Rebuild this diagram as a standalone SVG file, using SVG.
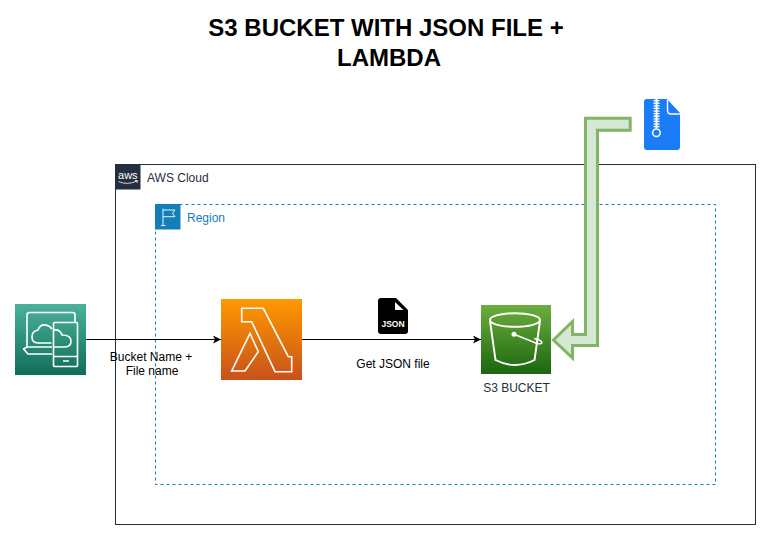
<svg xmlns="http://www.w3.org/2000/svg" width="771" height="540" viewBox="0 0 771 540">
<style>
text{font-family:"Liberation Sans",Arial,sans-serif}
.t{font-size:12px;text-anchor:middle;fill:#000}
.title{font-size:24px;font-weight:bold;text-anchor:middle;fill:#000}
.w{fill:none;stroke:#fff;stroke-width:1.6;stroke-linejoin:round}
.c{fill:none;stroke:#000;stroke-width:1}
</style>
<defs>
<marker id="a" markerUnits="userSpaceOnUse" markerWidth="9" markerHeight="8" refX="8" refY="4" orient="auto"><path d="M0 0L8 4L0 8L2 4Z" fill="#000"/></marker>
<linearGradient id="g1" x1="0" y1="1" x2="0" y2="0"><stop offset="0" stop-color="#116d5b"/><stop offset="1" stop-color="#4ab29a"/></linearGradient>
<linearGradient id="g2" x1="0" y1="1" x2="0" y2="0"><stop offset="0" stop-color="#c8511b"/><stop offset="1" stop-color="#f90"/></linearGradient>
<linearGradient id="g3" x1="0" y1="1" x2="0" y2="0"><stop offset="0" stop-color="#1b660f"/><stop offset="1" stop-color="#6cae3e"/></linearGradient>
</defs>
<rect width="771" height="540" fill="#fff"/>
<g id="title"><text class="title" x="386" y="36">S3 BUCKET WITH JSON FILE +</text><text class="title" x="389" y="66">LAMBDA</text></g>
<g id="aws-cloud">
<rect x="115.500" y="164.500" width="640" height="360" fill="none" stroke="#232f3e"/>
<rect x="115" y="164" width="25.500" height="25.500" fill="#232f3e"/>
<text x="127.800" y="179" font-size="11" fill="#fff" text-anchor="middle">aws</text>
<path d="M118.500 181.500Q127 185.500 137 181M135 180.500L137.500 180.500L137 183" fill="none" stroke="#fff" stroke-width="0.800"/>
<text x="147" y="182" font-size="12" fill="#232f3e">AWS Cloud</text>
</g>
<g id="region">
<rect x="155.500" y="204.500" width="560" height="280" fill="none" stroke="#147eba" stroke-dasharray="3 3"/>
<rect x="155" y="204" width="25.500" height="25.500" fill="#147eba"/>
<path d="M161 225.500H165.500M163 225.500V208.500M163 210H175L172.500 213.300L175 216.700H163" fill="none" stroke="#fff" stroke-width="0.900"/>
<text x="187" y="222" font-size="12" fill="#147eba">Region</text>
</g>
<g id="connectors">
<path class="c" d="M86 339.500H221" marker-end="url(#a)"/>
<path class="c" d="M302 339.500H481" marker-end="url(#a)"/>
<path d="M630.200 118.200H585.500V334.500H572.500V321.500L553.500 340L572.500 358V345.500H597.500V130.200H630.200Z" fill="#d5e8d4" stroke="#82b366" stroke-width="3" stroke-linejoin="miter"/>
</g>
<g id="client">
<rect x="15" y="304" width="71" height="71" fill="url(#g1)"/>
<path class="w" d="M52 347H27V315Q27 312.500 29.500 312.500H72.500Q75 312.500 75 315V322M27 347L23.500 349L28 354H52"/>
<path class="w" d="M51.500 343H38Q32 343 32 337Q32 331 38 330Q40 324 46 325Q50 326 52 329"/>
<rect class="w" x="53.500" y="322.500" width="24" height="44" rx="1"/>
<path class="w" d="M53.500 356.500H77.500M63 361H69"/>
<path class="w" d="M54 330Q60 329 62 335Q71 335 71 341Q71 347 65 347H54"/>
</g>
<g id="lambda">
<rect x="221" y="299" width="81" height="81" fill="url(#g2)"/>
<path class="w" stroke-width="1.800" style="stroke-linejoin:miter" d="M241.700 308.300H263.300L288.300 356.700H291.700V371.700H275L251.700 321.700H241.700Z"/>
<path class="w" stroke-width="1.800" style="stroke-linejoin:miter" d="M250 333.300L258.300 351.700L245 371H231.700Z"/>
</g>
<g id="json-file">
<path d="M381 298H396L408 310V331Q408 334 405 334H381Q378 334 378 331V301Q378 298 381 298Z" fill="#000"/>
<path d="M395 302V310H403.500Z" fill="#fff"/>
<text x="393" y="327" font-size="8.500" font-weight="bold" fill="#fff" text-anchor="middle">JSON</text>
</g>
<text class="t" x="393" y="368">Get JSON file</text>
<text class="t" x="151" y="361">Bucket Name +</text>
<text class="t" x="152" y="375">File name</text>
<g id="s3">
<rect x="481" y="305" width="70" height="69" fill="url(#g3)"/>
<ellipse class="w" style="stroke-width:1.900" cx="515" cy="320" rx="25" ry="6.800"/>
<path class="w" style="stroke-width:1.900" d="M490 321L495.500 360Q515 370 534.500 360L540 321"/>
<circle cx="514" cy="334.300" r="2.500" fill="#fff"/>
<path class="w" d="M514 334.300L537 343.500Q543 344.500 541.500 341.500Q539 339 534 338.500"/>
<text x="516.500" y="392" font-size="12" fill="#232f3e" text-anchor="middle">S3 BUCKET</text>
</g>
<g id="zip-file">
<path d="M647 99H667L680 113V147Q680 150 677 150H647Q644 150 644 147V102Q644 99 647 99Z" fill="#1a7df7"/>
<path d="M667.500 99.500V110Q667.500 114 671 114H680" fill="none" stroke="#fff" stroke-width="1.400"/>
<path d="M656.500 99V128" stroke="#fff" stroke-width="2"/>
<path d="M656.500 100V128" stroke="#fff" stroke-width="6" stroke-dasharray="1.300 1.300"/>
<circle cx="656.400" cy="132.700" r="3.800" fill="none" stroke="#fff" stroke-width="1.500"/>
</g>
</svg>
